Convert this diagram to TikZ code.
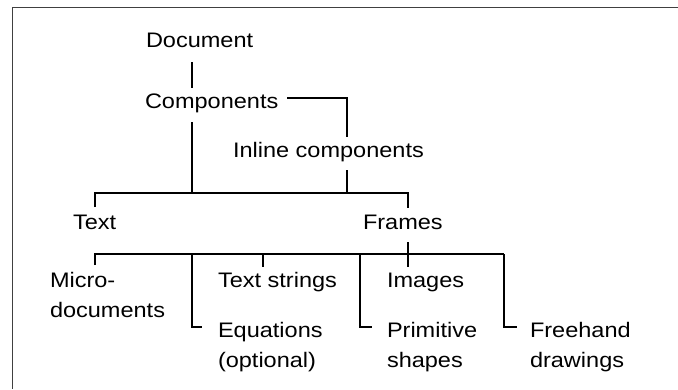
\documentclass[tikz,border=0pt]{standalone}
\usepackage{fontspec}
\setmainfont[FakeStretch=1.12]{Liberation Sans}
\begin{document}
\begin{tikzpicture}[x=1pt,y=-1pt,
  lbl/.style={inner sep=0pt,outer sep=0pt,anchor=base west,font=\fontsize{21}{30}\selectfont},
  mlbl/.style={inner sep=0pt,outer sep=0pt,anchor=north west,align=left,font=\fontsize{21}{30}\selectfont},
  conn/.style={line width=2pt,line cap=butt,line join=miter},
  frameline/.style={line width=1pt,black!75}]
\useasboundingbox (0,0) rectangle (678,389);
% frame
\coordinate (ftl) at (12,7);
\coordinate (ftr) at (678,7);
\coordinate (fbl) at (12,389);
\draw[frameline] (ftr) -- (ftl) -- (fbl);
% labels
\node[lbl] (doc) at (146,47) {Document};
\node[lbl] (comp) at (145,108) {Components};
\node[lbl] (inl) at (233,157) {Inline components};
\node[lbl] (text) at (73,229) {Text};
\node[lbl] (frames) at (363,229) {Frames};
\node[mlbl] (micro) at (50,272) {Micro-\\documents};
\node[lbl] (tstr) at (218,287) {Text strings};
\node[mlbl] (equ) at (218,322) {Equations\\(optional)};
\node[lbl] (img) at (387,287) {Images};
\node[mlbl] (prim) at (387,322) {Primitive\\shapes};
\node[mlbl] (free) at (530,322) {Freehand\\drawings};
% junction coordinates
\coordinate (d1) at (192,62);
\coordinate (d2) at (192,88);
\coordinate (j1) at (347,98);
\coordinate (j2) at (192,193);
\coordinate (j3) at (347,193);
\coordinate (h1l) at (95,193);
\coordinate (h1r) at (408,193);
\coordinate (h2l) at (95,254);
\coordinate (h2a) at (192,254);
\coordinate (h2b) at (263,254);
\coordinate (h2c) at (360,254);
\coordinate (h2r) at (504,254);
\coordinate (e1) at (192,327);
\coordinate (e2) at (360,327);
\coordinate (e3) at (504,327);
% connectors
\draw[conn] (d1) -- (d2);
\draw[conn] (287,98) -- (j1) -- (347,137);
\draw[conn] (347,170) -- (j3);
\draw[conn] (192,122) -- (j2);
\draw[conn] (95,207) -- (h1l) -- (h1r) -- (408,208);
\draw[conn] (408,242) -- (408,267);
\draw[conn] (95,265) -- (h2l) -- (h2r);
\draw[conn] (h2a) -- (e1) -- (202,327);
\draw[conn] (h2b) -- (263,267);
\draw[conn] (h2c) -- (e2) -- (372,327);
\draw[conn] (h2r) -- (e3) -- (517,327);
\end{tikzpicture}
\end{document}
